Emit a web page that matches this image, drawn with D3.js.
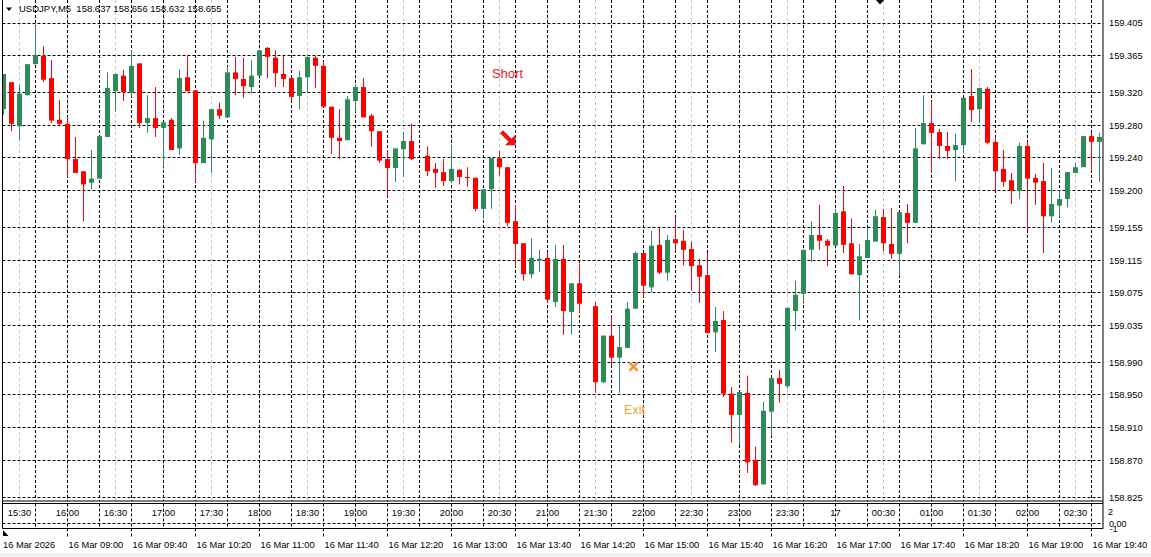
<!DOCTYPE html>
<html><head><meta charset="utf-8">
<script src="https://cdn.jsdelivr.net/npm/d3@7"></script>
<style>
html,body{margin:0;padding:0;background:#fff;}
svg{display:block;}
text{font-family:"Liberation Sans",Arial,sans-serif;}
</style>
</head><body><div id="chart"></div>
<script>
// ---------------- DATA ----------------
const symbolTitle = "USDJPY,M5  158.637 158.656 158.632 158.655";

const opens = [159.299,159.332,159.278,159.316,159.354,159.364,159.337,159.286,159.281,159.238,
159.223,159.209,159.214,159.265,159.321,159.340,159.319,159.355,159.282,159.288,
159.276,159.286,159.251,159.338,159.322,159.233,159.262,159.299,159.289,159.344,
159.336,159.326,159.340,159.374,159.362,159.342,159.337,159.315,159.338,159.362,
159.352,159.302,159.264,159.261,159.309,159.326,159.291,159.272,159.238,159.227,
159.250,159.260,null,159.242,159.226,159.222,159.211,159.225,159.216,159.215,
159.177,159.201,159.239,159.228,159.162,159.135,159.097,159.114,159.117,159.063,
159.116,159.051,159.086,null,159.058,158.965,159.022,158.995,159.007,159.055,
159.123,159.081,159.133,159.099,159.140,159.138,159.128,159.108,159.096,159.026,
159.041,158.951,158.925,158.952,158.870,158.840,158.929,158.970,158.960,159.052,
159.073,159.127,159.145,159.138,159.132,159.174,159.135,159.096,159.117,159.137,
159.167,159.134,159.122,159.172,159.160,159.256,159.282,159.271,159.254,159.249,
159.255,159.315,159.299,159.324,159.259,159.226,159.212,159.199,159.254,159.215,
159.211,159.168,159.181,159.189,159.221,159.228,159.266,159.259];

const highs = [159.342,159.332,159.329,159.354,159.401,159.376,159.359,159.310,159.289,159.265,
159.223,159.249,159.266,159.344,159.342,159.347,159.371,159.355,159.316,159.326,
159.283,159.288,159.348,159.365,159.322,159.285,159.299,159.307,159.351,159.363,
159.362,159.359,159.371,159.375,159.371,159.364,159.337,159.346,159.363,159.364,
159.357,159.302,159.299,159.315,159.330,159.337,159.293,159.272,159.249,159.251,
159.271,159.281,null,159.253,159.233,159.238,159.255,159.225,159.228,159.215,
159.201,159.239,159.248,159.228,159.182,159.135,159.141,159.127,159.124,159.133,
159.133,159.086,159.110,null,159.063,159.022,159.047,159.034,159.063,159.125,
159.123,159.150,159.154,159.145,159.167,159.151,159.137,159.116,159.123,159.057,
159.052,158.959,158.953,158.973,158.886,158.941,158.970,158.980,159.056,159.089,
159.127,159.162,159.182,159.140,159.177,159.205,159.165,159.134,159.154,159.176,
159.177,159.178,159.173,159.183,159.276,159.316,159.308,159.275,159.271,159.269,
159.313,159.348,159.325,159.326,159.265,159.249,159.221,159.258,159.259,159.220,
159.233,159.227,159.200,159.222,159.233,159.266,159.270,159.270];

const lows = [159.292,159.272,159.261,159.316,159.354,159.332,159.282,159.278,159.216,159.221,
159.162,159.201,159.214,159.265,159.296,159.309,159.314,159.276,159.270,159.265,
159.228,159.249,159.243,159.321,159.210,159.233,159.221,159.287,159.289,159.316,
159.313,159.318,159.340,159.337,159.326,159.326,159.310,159.299,159.319,159.325,
159.302,159.244,159.238,159.261,159.296,159.289,159.253,159.233,159.192,159.210,
159.216,159.237,null,159.217,159.203,159.205,159.209,159.207,159.204,159.174,
159.165,159.177,159.218,159.156,159.106,159.089,159.092,159.100,159.062,159.057,
159.023,159.023,159.050,null,158.952,158.964,158.985,158.952,159.007,159.055,
159.069,159.075,159.097,159.089,159.127,159.108,159.077,159.062,159.025,159.002,
158.947,158.891,158.888,158.854,158.838,158.840,158.899,158.940,158.957,159.028,
159.063,159.112,159.127,159.107,159.132,159.123,159.097,159.041,159.117,159.137,
159.125,159.116,159.095,159.135,159.160,159.256,159.221,159.238,159.238,159.211,
159.245,159.283,159.282,159.256,159.199,159.204,159.183,159.189,159.151,159.182,
159.123,159.160,159.167,159.179,159.221,159.228,159.225,159.210];

const closes = [159.342,159.281,159.318,159.354,159.365,159.335,159.285,159.281,159.238,159.221,
159.207,159.214,159.266,159.325,159.342,159.320,159.352,159.282,159.288,159.276,
159.283,159.249,159.337,159.321,159.233,159.264,159.299,159.291,159.344,159.336,
159.327,159.340,159.371,159.363,159.343,159.336,159.314,159.338,159.363,159.352,
159.302,159.264,159.260,159.311,159.326,159.289,159.272,159.236,159.227,159.251,
159.260,159.238,null,159.223,159.221,159.211,159.226,159.216,159.215,159.177,
159.201,159.239,159.228,159.160,159.134,159.097,159.117,159.116,159.066,159.116,
159.052,159.086,159.061,null,158.965,159.022,158.995,159.008,159.055,159.123,
159.083,159.132,159.099,159.139,159.135,159.127,159.107,159.094,159.025,159.040,
158.951,158.925,158.953,158.867,158.839,158.930,158.970,158.963,159.056,159.072,
159.127,159.145,159.138,159.132,159.172,159.133,159.097,159.119,159.139,159.168,
159.135,159.122,159.173,159.160,159.251,159.282,159.270,159.254,159.248,159.255,
159.313,159.298,159.325,159.258,159.223,159.210,159.200,159.254,159.214,159.209,
159.168,159.183,159.189,159.222,159.228,159.266,159.259,159.265];

const priceTicks = [159.405,159.365,159.320,159.280,159.240,159.200,159.155,159.115,
159.075,159.035,158.990,158.950,158.910,158.870,158.825];

// lower panel time labels: every 6 bars starting at bar 2
const sessionLabels = ["15:30","16:00","16:30","17:00","17:30","18:00","18:30","19:00",
"19:30","20:00","20:30","21:00","21:30","22:00","22:30","23:00","23:30","17","00:30",
"01:00","01:30","02:00","02:30"];
const sessionStart = 2, sessionStep = 6;

// bottom date axis: every 8 bars starting at bar 8
const firstDateLabel = "16 Mar 2026";
const dateLabels = ["16 Mar 09:00","16 Mar 09:40","16 Mar 10:20","16 Mar 11:00","16 Mar 11:40",
"16 Mar 12:20","16 Mar 13:00","16 Mar 13:40","16 Mar 14:20","16 Mar 15:00","16 Mar 15:40",
"16 Mar 16:20","16 Mar 17:00","16 Mar 17:40","16 Mar 18:20","16 Mar 19:00","16 Mar 19:40"];
const dateStart = 8, dateStep = 8;
const gridStep = 4;

const indicatorLabels = ["2","0.00","-1"];

const shortSignal = {index:63, price:159.264, labelPrice:159.337, label:"Short"};
const exitSignal  = {index:78.75, price:158.984, labelPrice:158.926, label:"Exit"};

// ---------------- LAYOUT ----------------
const W = 1151, H = 557;
const L = 2.5, R = 1103, T = 0, MB = 501, PT = 503.5, PB = 528.5;
const upColor = "#2e8b57", downColor = "#ff0000";
const sepColors = {0:"#9a9a9a",2:"#b58a8a",4:"#9a9a9a",6:"#9a9a9a",8:"#9a9a9a",10:"#b58a8a",
12:"#6f8fae",14:"#9a9a9a",16:"#9a9a9a",18:"#6f8fae",20:"#9a9a9a",22:"#9a9a9a"};

const n = opens.length;
const x = d3.scaleLinear().domain([0, n-1]).range([3.5, 3.5 + 8*(n-1)]);
const y = d3.scaleLinear().domain([158.825, 159.405]).range([496.65, 22.5]);

const svg = d3.select("#chart").append("svg").attr("width", W).attr("height", H);
svg.append("rect").attr("width", W).attr("height", H).attr("fill", "#fff");
svg.append("rect").attr("x",0).attr("y",553).attr("width",W).attr("height",4).attr("fill","#f0f0f0");

svg.append("defs").append("clipPath").attr("id","plotclip")
  .append("rect").attr("x",L+0.5).attr("y",T).attr("width",R-L-0.5).attr("height",MB-T);

// session separators (faint, main panel only)
const sepG = svg.append("g");
sessionLabels.forEach((s,i)=>{
  const xi = x(sessionStart + i*sessionStep);
  sepG.append("line").attr("x1",xi).attr("x2",xi).attr("y1",T).attr("y2",MB)
    .attr("stroke", sepColors[i] || "#9a9a9a").attr("stroke-width",1)
    .attr("stroke-dasharray","3,3").attr("opacity",0.55);
});

// grid
const grid = svg.append("g").attr("stroke","#000").attr("stroke-width",1).attr("stroke-dasharray","3,2");
priceTicks.forEach(t=>{
  const yy = Math.round(y(t)) + 0.5;
  grid.append("line").attr("x1",L).attr("x2",R).attr("y1",yy).attr("y2",yy);
});
for (let i = gridStep; i < n; i += gridStep) {
  const xi = x(i);
  grid.append("line").attr("x1",xi).attr("x2",xi).attr("y1",T).attr("y2",MB);
  grid.append("line").attr("x1",xi).attr("x2",xi).attr("y1",PT).attr("y2",PB);
}
grid.append("line").attr("x1",L).attr("x2",R).attr("y1",523.5).attr("y2",523.5);
// bottom ticks at date labels
for (let j = 0; j < dateLabels.length; j++) {
  const xi = x(dateStart + j*dateStep);
  grid.append("line").attr("x1",xi).attr("x2",xi).attr("y1",PB).attr("y2",538);
}

// candles
const bars = opens.map((o,i)=>({i,o,h:highs[i],l:lows[i],c:closes[i]})).filter(d=>d.o!=null);
const cg = svg.append("g").attr("clip-path","url(#plotclip)");
const col = d => d.c >= d.o ? upColor : downColor;
cg.selectAll("line.wick").data(bars).join("line").attr("class","wick")
  .attr("x1",d=>x(d.i)).attr("x2",d=>x(d.i))
  .attr("y1",d=>y(d.h)).attr("y2",d=>y(d.l))
  .attr("stroke",col).attr("stroke-width",1);
cg.selectAll("rect.body").data(bars).join("rect").attr("class","body")
  .attr("x",d=>x(d.i)-2.5).attr("width",5)
  .attr("y",d=>y(Math.max(d.o,d.c)))
  .attr("height",d=>Math.max(1, y(Math.min(d.o,d.c)) - y(Math.max(d.o,d.c))))
  .attr("fill",col);

// Short signal
{
  const cx = x(shortSignal.index), cy = y(shortSignal.price);
  const g = svg.append("g").attr("transform",`translate(${cx},${cy})`);
  g.append("line").attr("x1",-6).attr("y1",-6).attr("x2",3).attr("y2",3)
    .attr("stroke","#f01010").attr("stroke-width",4.2);
  g.append("path").attr("d","M8,7.5 L8,-3 L-2.5,7.5 Z").attr("fill","#f01010");
  svg.append("text").attr("x",cx).attr("y",y(shortSignal.labelPrice))
    .attr("text-anchor","middle").attr("font-size",13).attr("fill","#e8222a")
    .text(shortSignal.label);
}
// Exit signal
{
  const cx = x(exitSignal.index), cy = y(exitSignal.price);
  const g = svg.append("g").attr("transform",`translate(${cx},${cy})`)
    .attr("stroke","#f0962e").attr("stroke-width",2.4).attr("stroke-linecap","round");
  g.append("line").attr("x1",-3.5).attr("y1",-3.5).attr("x2",3.5).attr("y2",3.5);
  g.append("line").attr("x1",-3.5).attr("y1",3.5).attr("x2",3.5).attr("y2",-3.5);
  svg.append("text").attr("x",cx+1).attr("y",y(exitSignal.labelPrice))
    .attr("text-anchor","middle").attr("font-size",12.5).attr("fill","#f0a040")
    .text(exitSignal.label);
}

// right price axis
const yAxis = d3.axisRight(y).tickValues(priceTicks).tickFormat(d3.format(".3f"))
  .tickSize(0).tickPadding(6);
const ya = svg.append("g").attr("transform",`translate(${R},0.5)`).call(yAxis);
ya.select(".domain").remove();
ya.selectAll("text").attr("font-size",9.3).attr("fill","#000")
  .attr("font-family",'"Liberation Sans",Arial,sans-serif');

// lower panel session labels
sessionLabels.forEach((s,i)=>{
  svg.append("text").attr("x",x(sessionStart + i*sessionStep)).attr("y",515.5)
    .attr("text-anchor","middle").attr("font-size",9.3).attr("fill","#000").text(s);
});
// indicator scale labels (overlapping, as in the reference)
svg.append("text").attr("x",1108).attr("y",514.5).attr("font-size",9).text(indicatorLabels[0]);
svg.append("text").attr("x",1110).attr("y",532).attr("font-size",8.5).text(indicatorLabels[2]);
svg.append("text").attr("x",1109).attr("y",527).attr("font-size",9).text(indicatorLabels[1]);

// bottom date labels
svg.append("text").attr("x",3).attr("y",547.5).attr("font-size",9.3).text(firstDateLabel);
dateLabels.forEach((s,j)=>{
  svg.append("text").attr("x",x(dateStart + j*dateStep)+1).attr("y",547.5)
    .attr("font-size",9.3).text(s);
});

// borders
const b = svg.append("g").attr("stroke","#000").attr("stroke-width",1).attr("fill","none");
b.append("line").attr("x1",L).attr("x2",L).attr("y1",0).attr("y2",PB);
b.append("line").attr("x1",R).attr("x2",R).attr("y1",0).attr("y2",PB);
b.append("line").attr("x1",L).attr("x2",R).attr("y1",MB).attr("y2",MB);
b.append("line").attr("x1",L).attr("x2",R).attr("y1",PT).attr("y2",PT);
b.append("line").attr("x1",L).attr("x2",R).attr("y1",PB).attr("y2",PB);

// title + markers
svg.append("path").attr("d","M6,7.5 L12,7.5 L9,11 Z").attr("fill","#000");
svg.append("text").attr("x",19).attr("y",12).attr("font-size",9.5).attr("fill","#000")
  .style("white-space","pre").text(symbolTitle);
svg.append("path").attr("d","M876,0 L884,0 L880,4.5 Z").attr("fill","#000");
svg.append("path").attr("d","M3,530 L3,536 L8.5,536 Z").attr("fill","#000");
</script>
</body></html>
